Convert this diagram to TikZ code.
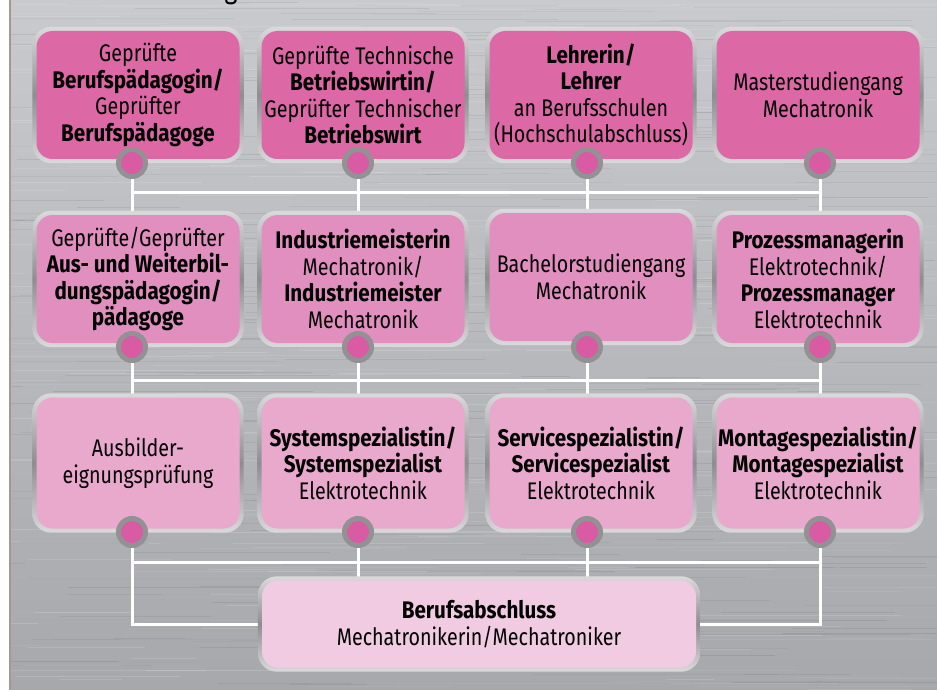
\documentclass[tikz,border=0pt]{standalone}
\usepackage{fontspec}
\setmainfont[FakeStretch=0.82, BoldFeatures={FakeStretch=0.86}]{Fira Sans}
\usetikzlibrary{calc}
\definecolor{pinkA}{RGB}{220,104,166}
\definecolor{pinkB}{RGB}{225,143,190}
\definecolor{pinkC}{RGB}{233,169,205}
\definecolor{pinkD}{RGB}{240,203,225}
\definecolor{dotpink}{RGB}{217,91,163}
\definecolor{ringgray}{RGB}{146,146,148}
\definecolor{rimlight}{RGB}{218,218,220}
\definecolor{rimdark}{RGB}{142,142,144}
\definecolor{bgtop}{RGB}{200,202,205}
\definecolor{bgbot}{RGB}{166,168,171}
\definecolor{edgeline}{RGB}{165,152,140}
\pgfdeclarelayer{bglayer}
\pgfdeclarelayer{linelayer}
\pgfdeclarelayer{rimlayer}
\pgfsetlayers{bglayer,linelayer,rimlayer,main}
\tikzset{
  card/.style={rounded corners=16pt, minimum width=203pt, minimum height=128pt,
    inner sep=0pt, align=center, text=black,
    font=\fontsize{24}{26.5}\selectfont},
  cardA/.style={card, fill=pinkA},
  cardB/.style={card, fill=pinkB},
  cardC/.style={card, fill=pinkC, minimum height=131pt},
  cardD/.style={card, fill=pinkD, minimum width=434pt, minimum height=87pt},
  dot/.style={circle, minimum size=27pt, inner sep=0pt, fill=dotpink,
    draw=ringgray, line width=5pt},
  conn/.style={draw=white, line width=3pt},
  rimshade/.style={rounded corners=19pt, top color=rimlight,
    bottom color=rimlight, middle color=rimdark},
  brushlight/.style={draw=white, line width=1pt},
  brushdark/.style={draw=black, line width=1pt}
}
\begin{document}
\begin{tikzpicture}[x=1pt,y=-1pt]
\useasboundingbox (0,0) rectangle (937,690);

% ---------- background ----------
\begin{pgfonlayer}{bglayer}
  \fill[white] (0,0) rectangle (9,690);
  \fill[edgeline] (9,0) rectangle (11,690);
  \shade[top color=bgtop, bottom color=bgbot] (11,0) rectangle (937,690);
  \begin{scope}
    \clip (11,0) rectangle (937,690);
    \pgfmathsetseed{42}
    \foreach \i in {1,...,300}{
      \pgfmathsetmacro{\yy}{rnd*690}
      \pgfmathsetmacro{\xx}{rnd*937-100}
      \pgfmathsetmacro{\ll}{40+rnd*260}
      \pgfmathsetmacro{\op}{0.04+rnd*0.12}
      \draw[brushlight, opacity=\op] (\xx,\yy) -- ++(\ll,0);
    }
    \foreach \i in {1,...,300}{
      \pgfmathsetmacro{\yy}{rnd*690}
      \pgfmathsetmacro{\xx}{rnd*937-100}
      \pgfmathsetmacro{\ll}{40+rnd*260}
      \pgfmathsetmacro{\op}{0.02+rnd*0.06}
      \draw[brushdark, opacity=\op] (\xx,\yy) -- ++(\ll,0);
    }
  \end{scope}
  \node[font=\fontsize{30}{30}\selectfont, anchor=base, text=black] (ttl) at (231,-1) {g};
\end{pgfonlayer}

% ---------- row 1 ----------
\node[cardA] (b11) at (138,95)
  {Geprüfte\\\textbf{Berufspädagogin/}\\Geprüfter\\\textbf{Berufspädagoge}};
\node[cardA] (b12) at (363,95)
  {Geprüfte Technische\\\textbf{Betriebswirtin/}\\Geprüfter Technischer\\\textbf{Betriebswirt}};
\node[cardA] (b13) at (591,95)
  {\textbf{Lehrerin/}\\\textbf{Lehrer}\\an Berufsschulen\\(Hochschulabschluss)};
\node[cardA] (b14) at (818,95)
  {Masterstudiengang\\Mechatronik};

% ---------- row 2 ----------
\node[cardB] (b21) at (138,279)
  {Geprüfte/Geprüfter\\\textbf{Aus- und Weiterbil-}\\\textbf{dungspädagogin/}\\\textbf{pädagoge}};
\node[cardB] (b22) at (363,279)
  {\textbf{Industriemeisterin}\\Mechatronik/\\\textbf{Industriemeister}\\Mechatronik};
\node[cardB] (b23) at (591,277)
  {Bachelorstudiengang\\Mechatronik};
\node[cardB] (b24) at (818,279)
  {\textbf{Prozessmanagerin}\\Elektrotechnik/\\\textbf{Prozessmanager}\\Elektrotechnik};

% ---------- row 3 ----------
\node[cardC] (b31) at (138,463)
  {Ausbilder-\\eignungsprüfung};
\node[cardC] (b32) at (363,463)
  {\textbf{Systemspezialistin/}\\\textbf{Systemspezialist}\\Elektrotechnik};
\node[cardC] (b33) at (591,463)
  {\textbf{Servicespezialistin/}\\\textbf{Servicespezialist}\\Elektrotechnik};
\node[cardC] (b34) at (818,463)
  {\textbf{Montagespezialistin/}\\\textbf{Montagespezialist}\\Elektrotechnik};

% ---------- bottom ----------
\node[cardD] (bot) at (479,624)
  {\textbf{Berufsabschluss}\\Mechatronikerin/Mechatroniker};

% ---------- rims ----------
\begin{pgfonlayer}{rimlayer}
  \foreach \n in {b11,b12,b13,b14,b21,b22,b23,b24,b31,b32,b33,b34,bot}{
    \shade[rimshade] ($(\n.north west)+(-4,-4)$) rectangle ($(\n.south east)+(4,4)$);
  }
\end{pgfonlayer}

% ---------- dots ----------
\node[dot] (c11) at (132,163) {};
\node[dot] (c12) at (358,163) {};
\node[dot] (c13) at (587,163) {};
\node[dot] (c14) at (820,163) {};
\node[dot] (c21) at (132,347) {};
\node[dot] (c22) at (358,347) {};
\node[dot] (c23) at (587,347) {};
\node[dot] (c24) at (820,347) {};
\node[dot] (c31) at (132,532) {};
\node[dot] (c32) at (358,532) {};
\node[dot] (c33) at (587,532) {};
\node[dot] (c34) at (820,532) {};

\coordinate (bus1) at (0,192);
\coordinate (bus2) at (0,380);
\coordinate (bus3) at (0,562);

% ---------- connectors ----------
\begin{pgfonlayer}{linelayer}
  \foreach \i in {1,2,3,4}{
    \draw[conn] (c1\i.center) -- (c1\i.center |- b2\i.north);
    \draw[conn] (c2\i.center) -- (c2\i.center |- b3\i.north);
  }
  \draw[conn] (c11.center |- bus1) -- (c14.center |- bus1);
  \draw[conn] (c21.center |- bus2) -- (c24.center |- bus2);
  \draw[conn] (c31.center |- bus3) -- (c34.center |- bus3);
  \draw[conn] (c31.center) -- (c31.center |- bot.west) -- (bot.west);
  \draw[conn] (c34.center) -- (c34.center |- bot.east) -- (bot.east);
  \draw[conn] (c32.center) -- (c32.center |- bot.north);
  \draw[conn] (c33.center) -- (c33.center |- bot.north);
\end{pgfonlayer}
\end{tikzpicture}
\end{document}
